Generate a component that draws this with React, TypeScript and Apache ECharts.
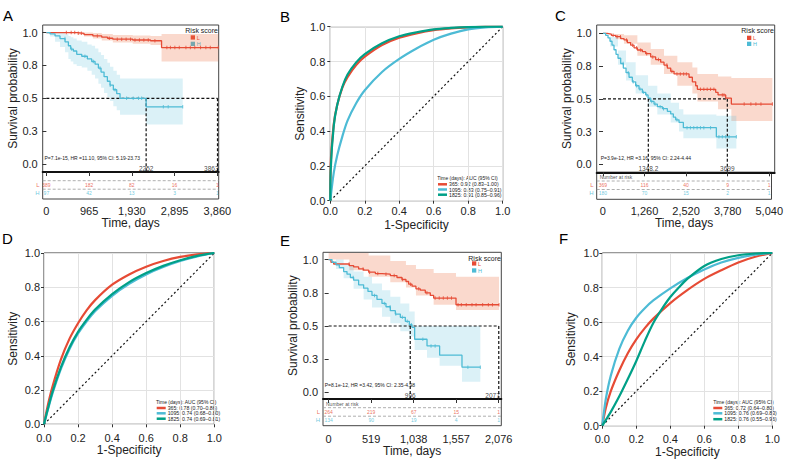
import React, { useEffect, useRef } from "react";
import * as echarts from "echarts";

type Pt = [number, number];
type Band = [number, number, number];

const RED = "#E64B35";
const BLUE = "#4DBBD5";
const GREEN = "#00A087";
const RED_FILL = "rgba(235,110,60,0.26)";
const BLUE_FILL = "rgba(77,187,213,0.2)";
const FONT = "'Liberation Sans', Arial, Helvetica, sans-serif";

// ---------- shared KM axis ----------
const KM_Y_TICKS = [0, 0.25, 0.5, 0.75, 1];
const KM_Y_LABELS = ["0.0", "0.3", "0.5", "0.8", "1.0"];
const RISK_GROUPS = ["L", "H"];

// ---------- Panel A ----------
const A_TICKS = [0, 965, 1930, 2895, 3860];
const A_L_CURVE: Pt[] = [[0, 1], [700, 0.995], [850, 0.985], [1050, 0.975], [1250, 0.965], [1380, 0.957], [1500, 0.95], [1950, 0.944], [2350, 0.938], [2600, 0.886], [3880, 0.886]];
const A_L_BAND: Band[] = [[0, 1, 1], [700, 0.985, 1], [850, 0.97, 1], [1050, 0.955, 0.998], [1250, 0.94, 0.99], [1500, 0.925, 0.982], [1950, 0.915, 0.978], [2350, 0.905, 0.975], [2600, 0.78, 0.99], [3880, 0.78, 0.99]];
const A_L_CENSOR = [450, 560, 640, 720, 790, 1150, 1420, 1600, 1700, 1800, 1900, 2000, 2100, 2200, 2300, 2450, 2720, 2800, 2900, 3000, 3150, 3250, 3350, 3480, 3600, 3700, 3880];
const A_H_CURVE: Pt[] = [[0, 1], [83, 0.99], [196, 0.975], [308, 0.955], [421, 0.93], [497, 0.9], [549, 0.875], [609, 0.86], [685, 0.835], [798, 0.82], [925, 0.8], [1023, 0.78], [1099, 0.76], [1174, 0.73], [1234, 0.7], [1302, 0.665], [1377, 0.63], [1437, 0.6], [1512, 0.565], [1588, 0.535], [1663, 0.5], [2252, 0.435], [3078, 0.435]];
const A_H_BAND: Band[] = [[0, 1, 1], [83, 0.97, 1], [196, 0.93, 1], [308, 0.89, 1], [421, 0.85, 0.99], [497, 0.8, 0.975], [549, 0.78, 0.965], [609, 0.76, 0.955], [685, 0.745, 0.94], [798, 0.735, 0.93], [925, 0.71, 0.91], [1023, 0.68, 0.9], [1099, 0.65, 0.88], [1174, 0.61, 0.85], [1234, 0.58, 0.83], [1302, 0.54, 0.8], [1377, 0.51, 0.77], [1437, 0.48, 0.74], [1512, 0.44, 0.71], [1588, 0.41, 0.68], [1663, 0.375, 0.65], [2252, 0.3, 0.65], [3078, 0.3, 0.65]];
const A_H_CENSOR = [420, 570, 870, 1060, 1210, 1440, 1550, 1810, 1960, 2080, 2150, 2640, 2750, 3078];
const A_MEDIANS = [2252, 3863];
const A_RISK_L = [389, 182, 82, 16, 1];
const A_RISK_H = [97, 42, 13, 3, 1];
const A_STAT = "P=7.1e-15, HR =11.10, 95% CI: 5.19-23.73";

// ---------- Panel C ----------
const C_TICKS = [0, 1260, 2520, 3780, 5040];
const C_L_CURVE: Pt[] = [[0, 1], [129, 0.995], [248, 0.985], [377, 0.975], [526, 0.96], [625, 0.95], [724, 0.93], [823, 0.91], [923, 0.89], [1022, 0.873], [1171, 0.86], [1270, 0.845], [1419, 0.82], [1567, 0.8], [1716, 0.78], [1815, 0.758], [1915, 0.735], [2014, 0.71], [2113, 0.69], [2560, 0.665], [2659, 0.63], [2758, 0.6], [2808, 0.573], [3353, 0.55], [3423, 0.53], [3651, 0.505], [3819, 0.46], [5040, 0.46]];
const C_L_BAND: Band[] = [[0, 1, 1], [377, 0.955, 0.995], [625, 0.92, 0.985], [1022, 0.83, 0.93], [1419, 0.76, 0.88], [1815, 0.69, 0.83], [2212, 0.6, 0.78], [2659, 0.54, 0.74], [2808, 0.48, 0.69], [3423, 0.42, 0.67], [3819, 0.33, 0.66], [5040, 0.33, 0.66]];
const C_L_CENSOR = [300, 420, 520, 700, 880, 1000, 1120, 1300, 1480, 1650, 1900, 2050, 2200, 2300, 2400, 2480, 2900, 3000, 3100, 3200, 3300, 3550, 3600, 4200, 4400, 4550, 4700, 5040];
const C_H_CURVE: Pt[] = [[0, 1], [79, 0.985], [149, 0.965], [208, 0.94], [268, 0.91], [327, 0.875], [387, 0.84], [446, 0.81], [526, 0.77], [605, 0.735], [685, 0.7], [774, 0.665], [873, 0.63], [972, 0.6], [1071, 0.575], [1171, 0.55], [1270, 0.53], [1340, 0.505], [1419, 0.48], [1518, 0.46], [1617, 0.44], [1766, 0.425], [1915, 0.405], [2014, 0.385], [2093, 0.36], [2163, 0.34], [2262, 0.32], [2391, 0.28], [3373, 0.21], [3968, 0.21]];
const C_H_BAND: Band[] = [[0, 1, 1], [208, 0.9, 0.975], [446, 0.76, 0.87], [685, 0.64, 0.78], [972, 0.54, 0.68], [1340, 0.44, 0.6], [1617, 0.38, 0.54], [2014, 0.32, 0.47], [2262, 0.25, 0.42], [2391, 0.2, 0.38], [3373, 0.12, 0.37], [3968, 0.12, 0.37]];
const C_H_CENSOR = [600, 750, 900, 1000, 1100, 1200, 1300, 1450, 1550, 1700, 1800, 2200, 2500, 2600, 2700, 2800, 2900, 3000, 3200, 3450, 3550, 3650, 3750, 3968];
const C_MEDIANS = [1348.2, 3699];
const C_RISK_L = [369, 116, 40, 9, 1];
const C_RISK_H = [180, 70, 15, 2, 1];
const C_STAT = "P=3.9e-12, HR =3.16, 95% CI: 2.24-4.44";

// ---------- Panel E ----------
const E_TICKS = [0, 519, 1038, 1557, 2076];
const E_L_CURVE: Pt[] = [[0, 1], [28, 0.98], [61, 0.967], [252, 0.955], [305, 0.945], [366, 0.93], [427, 0.92], [488, 0.905], [570, 0.895], [651, 0.89], [753, 0.88], [834, 0.865], [895, 0.85], [944, 0.835], [977, 0.815], [1018, 0.8], [1066, 0.78], [1119, 0.77], [1180, 0.75], [1241, 0.73], [1282, 0.71], [1555, 0.66], [2080, 0.66]];
const E_L_BAND: Band[] = [[0, 1, 1.05], [252, 0.92, 1.05], [488, 0.87, 1.03], [753, 0.83, 0.99], [944, 0.79, 0.96], [1066, 0.73, 0.93], [1282, 0.66, 0.9], [1555, 0.62, 0.87], [2080, 0.62, 0.87]];
const E_L_CENSOR = [250, 420, 500, 600, 700, 800, 900, 1000, 1100, 1200, 1300, 1350, 1400, 1450, 1500, 1580, 1620, 1680, 1750, 1800, 1880, 1950, 2000, 2080];
const E_H_CURVE: Pt[] = [[0, 1], [41, 0.98], [90, 0.96], [130, 0.94], [183, 0.91], [224, 0.89], [265, 0.865], [305, 0.845], [366, 0.81], [427, 0.785], [480, 0.76], [529, 0.73], [590, 0.7], [651, 0.67], [700, 0.645], [753, 0.615], [814, 0.59], [875, 0.565], [936, 0.535], [985, 0.51], [1018, 0.49], [1050, 0.4], [1201, 0.35], [1355, 0.28], [1628, 0.19], [1852, 0.19]];
const E_H_BAND: Band[] = [[0, 1, 1], [90, 0.93, 1], [183, 0.86, 0.96], [305, 0.78, 0.91], [427, 0.7, 0.87], [529, 0.64, 0.82], [651, 0.57, 0.77], [753, 0.52, 0.72], [875, 0.46, 0.67], [985, 0.42, 0.61], [1050, 0.32, 0.5], [1201, 0.26, 0.5], [1355, 0.2, 0.5], [1628, 0.08, 0.5], [1852, 0.08, 0.5]];
const E_H_CENSOR = [300, 560, 680, 750, 820, 900, 960, 1010, 1150, 1250, 1300, 1700, 1852];
const E_MEDIANS = [996, 2077];
const E_RISK_L = [264, 219, 67, 15, 1];
const E_RISK_H = [134, 90, 19, 4, 1];
const E_STAT = "P=8.1e-12, HR =3.42, 95% CI: 2.35-4.98";

// ---------- ROC panels ----------
const ROC_TITLE = "Time (days): AUC (95% CI)";
const B_365: Pt[] = [[0, 0], [0.002, 0.2], [0.02, 0.44], [0.04, 0.55], [0.07, 0.65], [0.1, 0.71], [0.15, 0.78], [0.2, 0.828], [0.3, 0.895], [0.4, 0.937], [0.5, 0.962], [0.6, 0.98], [0.7, 0.99], [0.8, 0.996], [0.9, 1], [1, 1]];
const B_1095: Pt[] = [[0, 0], [0.02, 0.16], [0.04, 0.26], [0.07, 0.37], [0.1, 0.46], [0.15, 0.56], [0.2, 0.635], [0.3, 0.74], [0.4, 0.815], [0.5, 0.875], [0.6, 0.925], [0.7, 0.96], [0.8, 0.985], [0.9, 0.996], [1, 1]];
const B_1825: Pt[] = [[0, 0], [0.002, 0.17], [0.02, 0.43], [0.04, 0.55], [0.07, 0.655], [0.1, 0.725], [0.15, 0.795], [0.2, 0.843], [0.3, 0.905], [0.4, 0.945], [0.5, 0.968], [0.6, 0.985], [0.7, 0.993], [0.8, 0.998], [0.9, 1], [1, 1]];
const B_LEGEND = ["365: 0.92 (0.83–1.00)", "1095: 0.83 (0.75–0.91)", "1825: 0.91 (0.85–0.96)"];

const D_365: Pt[] = [[0, 0], [0.02, 0.1], [0.05, 0.22], [0.1, 0.38], [0.15, 0.5], [0.2, 0.59], [0.25, 0.665], [0.3, 0.725], [0.4, 0.815], [0.5, 0.875], [0.6, 0.92], [0.7, 0.953], [0.8, 0.977], [0.9, 0.992], [1, 1]];
const D_1095: Pt[] = [[0, 0], [0.02, 0.075], [0.05, 0.18], [0.1, 0.325], [0.15, 0.44], [0.2, 0.53], [0.25, 0.6], [0.3, 0.66], [0.4, 0.75], [0.5, 0.82], [0.6, 0.875], [0.7, 0.918], [0.8, 0.953], [0.9, 0.98], [1, 1]];
const D_1825: Pt[] = [[0, 0], [0.02, 0.08], [0.05, 0.19], [0.1, 0.335], [0.15, 0.45], [0.2, 0.54], [0.25, 0.61], [0.3, 0.67], [0.4, 0.76], [0.5, 0.83], [0.6, 0.883], [0.7, 0.925], [0.8, 0.958], [0.9, 0.983], [1, 1]];
const D_LEGEND = ["365: 0.78 (0.70–0.86)", "1095: 0.74 (0.68–0.80)", "1825: 0.74 (0.69–0.81)"];

const F_365: Pt[] = [[0, 0], [0.02, 0.1], [0.05, 0.2], [0.1, 0.32], [0.15, 0.42], [0.2, 0.5], [0.25, 0.565], [0.3, 0.62], [0.4, 0.71], [0.5, 0.785], [0.6, 0.85], [0.7, 0.9], [0.8, 0.945], [0.9, 0.978], [1, 1]];
const F_1095: Pt[] = [[0, 0], [0.02, 0.15], [0.05, 0.29], [0.1, 0.445], [0.15, 0.55], [0.2, 0.625], [0.25, 0.68], [0.3, 0.725], [0.4, 0.795], [0.5, 0.855], [0.6, 0.905], [0.7, 0.945], [0.8, 0.972], [0.9, 0.99], [1, 1]];
const F_1825: Pt[] = [[0, 0], [0.05, 0.08], [0.1, 0.17], [0.15, 0.27], [0.2, 0.375], [0.25, 0.49], [0.3, 0.595], [0.35, 0.675], [0.4, 0.745], [0.45, 0.8], [0.5, 0.85], [0.6, 0.925], [0.7, 0.965], [0.8, 0.987], [0.9, 0.997], [1, 1]];
const F_LEGEND = ["365: 0.72 (0.64–0.80)", "1095: 0.76 (0.69–0.83)", "1825: 0.76 (0.55–0.96)"];

// ---------- helpers ----------
const txt = (size: number, color = "#222") => ({ fontFamily: FONT, fontSize: size, color });

function stepAt(curve: Pt[], t: number) {
  let v = curve[0][1];
  for (const p of curve) {
    if (p[0] <= t) v = p[1];
    else break;
  }
  return v;
}

function kmYFmt(v: number) {
  let best = 0;
  KM_Y_TICKS.forEach((t, i) => {
    if (Math.abs(t - v) < Math.abs(KM_Y_TICKS[best] - v)) best = i;
  });
  return KM_Y_LABELS[best];
}

function gText(x: number, y: number, text: string, size: number, fill = "#222", align = "left") {
  return {
    type: "text",
    x,
    y,
    silent: true,
    style: {
      text,
      fill,
      fontSize: size,
      fontFamily: FONT,
      align,
      verticalAlign: "middle",
      textAlign: align,
      textVerticalAlign: "middle",
    },
  };
}

function buildOption() {
  const grid: any[] = [];
  const xAxis: any[] = [];
  const yAxis: any[] = [];
  const series: any[] = [];
  const graphic: any[] = [];

  const bandSeries = (band: Band[], fill: string, ai: number) => ({
    type: "custom",
    xAxisIndex: ai,
    yAxisIndex: ai,
    silent: true,
    clip: true,
    z: 1,
    data: [[band[0][0], band[0][1]]],
    renderItem: (_p: any, api: any) => {
      const up: number[][] = [];
      const lo: number[][] = [];
      band.forEach((b, i) => {
        const tn = i < band.length - 1 ? band[i + 1][0] : b[0];
        up.push(api.coord([b[0], b[2]]), api.coord([tn, b[2]]));
        lo.push(api.coord([b[0], b[1]]), api.coord([tn, b[1]]));
      });
      return { type: "polygon", shape: { points: up.concat(lo.reverse()) }, style: { fill } };
    },
  });

  const addKM = (c: any) => {
    const gi = grid.length;
    const ri = gi + 1;
    const [L, T, W, H] = c.box;
    grid.push({ left: L, top: T, width: W, height: H, show: true, borderColor: "#444", borderWidth: 1, backgroundColor: "transparent" });
    grid.push({ left: L, top: T + H, width: W, height: c.tableH, show: true, borderColor: "#444", borderWidth: 1, backgroundColor: "transparent" });
    xAxis.push({
      gridIndex: gi, type: "value", min: c.xr[0], max: c.xr[1],
      axisLine: { show: true, onZero: false, lineStyle: { color: "#111", width: 2 } },
      axisTick: { show: false }, axisLabel: { show: false }, splitLine: { show: false },
    });
    xAxis.push({
      gridIndex: ri, type: "value", min: c.xr[0], max: c.xr[1],
      axisLine: { show: false },
      axisTick: { show: true, customValues: c.ticks, length: 4, lineStyle: { color: "#333" } },
      axisLabel: { show: true, customValues: c.ticks, formatter: (v: number) => v.toLocaleString("en-US"), margin: c.xLabMargin, ...txt(11) },
      splitLine: { show: false },
      name: "Time, days", nameLocation: "middle", nameGap: c.xNameGap, nameTextStyle: txt(12),
    });
    yAxis.push({
      gridIndex: gi, type: "value", min: c.yr[0], max: c.yr[1],
      axisLine: { show: false },
      axisTick: { show: true, customValues: KM_Y_TICKS, length: 4, lineStyle: { color: "#333" } },
      axisLabel: { show: true, customValues: KM_Y_TICKS, formatter: kmYFmt, margin: 5, ...txt(11) },
      splitLine: { show: false },
      name: "Survival probability", nameLocation: "middle", nameGap: c.yNameGap, nameTextStyle: txt(12),
    });
    yAxis.push({ gridIndex: ri, type: "value", min: 0, max: c.tableH, inverse: true, show: false });

    // CI bands
    series.push(bandSeries(c.lBand, RED_FILL, gi));
    series.push(bandSeries(c.hBand, BLUE_FILL, gi));

    // median lines
    const dash = { color: "#111", width: 1.2, type: [3, 2] };
    const mLast = c.medians[c.medians.length - 1];
    const segs: Pt[][] = [[[0, 0.5], [mLast, 0.5]], ...c.medians.map((m: number) => [[m, 0.5], [m, c.yr[0]]] as Pt[])];
    segs.forEach((s) =>
      series.push({ type: "line", xAxisIndex: gi, yAxisIndex: gi, data: s, symbol: "none", silent: true, z: 2, lineStyle: dash })
    );

    // curves
    const groups = [
      { curve: c.lCurve, cens: c.lCens, color: RED },
      { curve: c.hCurve, cens: c.hCens, color: BLUE },
    ];
    groups.forEach((g) => {
      series.push({
        type: "line", xAxisIndex: gi, yAxisIndex: gi, data: g.curve, step: "end", symbol: "none",
        silent: true, z: 3, lineStyle: { color: g.color, width: 1.3 },
      });
      series.push({
        type: "scatter", xAxisIndex: gi, yAxisIndex: gi, silent: true, z: 4,
        data: g.cens.map((t: number) => [t, stepAt(g.curve, t)]),
        symbol: "rect", symbolSize: [1, 3.5], itemStyle: { color: g.color },
      });
    });

    // median labels
    series.push({
      type: "scatter", xAxisIndex: gi, yAxisIndex: gi, silent: true, z: 5, symbolSize: 0,
      data: c.medians.map((m: number, i: number) => ({
        value: [m, c.medLabelY],
        label: {
          show: true,
          position: c.medAlign[i] === "r" ? "left" : "inside",
          distance: -1,
          formatter: String(m),
          ...txt(6.5, "#111"),
        },
      })),
    });

    // risk table
    [c.dashY[0], c.dashY[1]].forEach((y: number) =>
      series.push({
        type: "line", xAxisIndex: ri, yAxisIndex: ri, silent: true, symbol: "none",
        data: [[c.xr[0], y], [c.xr[1], y]],
        lineStyle: { color: "#999", width: 0.8, type: [3, 2] },
      })
    );
    const rows = [
      { vals: c.riskLow, y: c.rowY[0], color: RED, name: RISK_GROUPS[0] },
      { vals: c.riskHigh, y: c.rowY[1], color: BLUE, name: RISK_GROUPS[1] },
    ];
    rows.forEach((r) => {
      series.push({
        type: "scatter", xAxisIndex: ri, yAxisIndex: ri, silent: true, symbolSize: 0,
        data: c.ticks.map((t: number, i: number) => ({
          value: [t, r.y],
          label: { show: true, position: "inside", formatter: String(r.vals[i]), ...txt(5, r.color) },
        })),
      });
      series.push({
        type: "scatter", xAxisIndex: ri, yAxisIndex: ri, silent: true, symbolSize: 0,
        data: [{ value: [c.xr[0], r.y], label: { show: true, position: "left", distance: 3, formatter: r.name, ...txt(6, r.color) } }],
      });
    });
    if (c.header) {
      series.push({
        type: "scatter", xAxisIndex: ri, yAxisIndex: ri, silent: true, symbolSize: 0,
        data: [{ value: [c.xr[0], c.headerY], label: { show: true, position: "right", distance: 3, formatter: "Number at risk", ...txt(5, "#222") } }],
      });
    }

    // stats annotation and legend
    graphic.push(gText(c.stat[0], c.stat[1], c.statText, 5, "#222"));
    const lg = c.legend;
    graphic.push(gText(lg.xr, lg.ty, "Risk score", 7, "#222", "right"));
    graphic.push({ type: "rect", silent: true, shape: { x: lg.sx, y: lg.sy[0], width: 4.3, height: 4.3 }, style: { fill: RED } });
    graphic.push({ type: "rect", silent: true, shape: { x: lg.sx, y: lg.sy[1], width: 4.3, height: 4.3 }, style: { fill: BLUE } });
    graphic.push(gText(lg.sx + 6, lg.sy[0] + 2.2, RISK_GROUPS[0], 5.5, RED));
    graphic.push(gText(lg.sx + 6, lg.sy[1] + 2.2, RISK_GROUPS[1], 5.5, BLUE));
  };

  const addROC = (c: any) => {
    const gi = grid.length;
    const [L, T, W, H] = c.box;
    grid.push({ left: L, top: T, width: W, height: H, show: true, borderColor: "#333", borderWidth: 1, backgroundColor: "transparent" });
    const common = {
      gridIndex: gi, type: "value", min: 0, max: 1, interval: 0.2,
      axisLine: { show: false },
      axisTick: { show: true, length: 3, lineStyle: { color: "#333" } },
      splitLine: { show: true, lineStyle: { color: "#e2e2e2", width: 1 } },
    };
    xAxis.push({
      ...common,
      axisLabel: { formatter: (v: number) => v.toFixed(1), margin: c.xm, ...txt(11) },
      name: "1-Specificity", nameLocation: "middle", nameGap: c.xg, nameTextStyle: txt(12),
    });
    yAxis.push({
      ...common,
      axisLabel: { formatter: (v: number) => v.toFixed(1), margin: c.ym, ...txt(11) },
      name: "Sensitivity", nameLocation: "middle", nameGap: c.yg, nameTextStyle: txt(12),
    });
    series.push({
      type: "line", xAxisIndex: gi, yAxisIndex: gi, data: [[0, 0], [1, 1]], symbol: "none", silent: true, z: 2,
      lineStyle: { color: "#111", width: 1.2, type: [2, 2.5] },
    });
    c.curves.forEach((cv: any) =>
      series.push({
        type: "line", xAxisIndex: gi, yAxisIndex: gi, data: cv.data, symbol: "none", silent: true, z: 3,
        smooth: 0.3, lineStyle: { color: cv.color, width: 2.2 },
      })
    );
    const lg = c.legend;
    graphic.push(gText(lg.x, lg.ty, ROC_TITLE, 5, "#222"));
    const colors = [RED, BLUE, GREEN];
    c.labels.forEach((lab: string, i: number) => {
      graphic.push({
        type: "line", silent: true,
        shape: { x1: lg.lx[0], y1: lg.ys[i], x2: lg.lx[1], y2: lg.ys[i] },
        style: { stroke: colors[i], lineWidth: 2.5 },
      });
      graphic.push(gText(lg.lx[1] + 2, lg.ys[i], lab, 5.2, "#222"));
    });
  };

  const riskRows = { headerY: 4.5, dashY: [8.7, 17.2], rowY: [13, 21] };

  addKM({
    box: [42.7, 25, 176, 147], tableH: 27, xr: [-83, 3890], yr: [-0.061, 1.058], ticks: A_TICKS,
    lCurve: A_L_CURVE, lBand: A_L_BAND, lCens: A_L_CENSOR, hCurve: A_H_CURVE, hBand: A_H_BAND, hCens: A_H_CENSOR,
    medians: A_MEDIANS, medAlign: ["c", "r"], medLabelY: -0.034, riskLow: A_RISK_L, riskHigh: A_RISK_H,
    header: false, xLabMargin: 6, xNameGap: 18, yNameGap: 22,
    stat: [44.5, 158.3], statText: A_STAT,
    legend: { xr: 218, ty: 30, sx: 190.7, sy: [35.3, 41.7] },
    ...riskRows,
  });
  addROC({
    box: [330.3, 26.7, 172.4, 174], xm: 4.5, xg: 18, ym: 5, yg: 24,
    curves: [{ data: B_365, color: RED }, { data: B_1095, color: BLUE }, { data: B_1825, color: GREEN }],
    labels: B_LEGEND,
    legend: { x: 437.3, ty: 177.5, lx: [438, 447], ys: [184.3, 189.5, 194.7] },
  });
  addKM({
    box: [596.7, 25, 178, 147.3], tableH: 27, xr: [-188, 5109], yr: [-0.061, 1.064], ticks: C_TICKS,
    lCurve: C_L_CURVE, lBand: C_L_BAND, lCens: C_L_CENSOR, hCurve: C_H_CURVE, hBand: C_H_BAND, hCens: C_H_CENSOR,
    medians: C_MEDIANS, medAlign: ["c", "c"], medLabelY: -0.034, riskLow: C_RISK_L, riskHigh: C_RISK_H,
    header: true, xLabMargin: 6, xNameGap: 16, yNameGap: 20,
    stat: [600.7, 158.3], statText: C_STAT,
    legend: { xr: 774, ty: 30, sx: 747, sy: [35.7, 41.7] },
    ...riskRows,
  });
  addROC({
    box: [44, 253, 170.3, 171.3], xm: 8, xg: 20, ym: 4, yg: 25,
    curves: [{ data: D_365, color: RED }, { data: D_1095, color: BLUE }, { data: D_1825, color: GREEN }],
    labels: D_LEGEND,
    legend: { x: 156, ty: 401.5, lx: [156.7, 165.7], ys: [408, 413.3, 418.7] },
  });
  addKM({
    box: [323, 252.3, 178.3, 146.7], tableH: 26.7, xr: [-69, 2108], yr: [-0.05, 1.055], ticks: E_TICKS,
    lCurve: E_L_CURVE, lBand: E_L_BAND, lCens: E_L_CENSOR, hCurve: E_H_CURVE, hBand: E_H_BAND, hCens: E_H_CENSOR,
    medians: E_MEDIANS, medAlign: ["c", "r"], medLabelY: -0.02, riskLow: E_RISK_L, riskHigh: E_RISK_H,
    header: true, xLabMargin: 7.5, xNameGap: 18, yNameGap: 24,
    stat: [324.7, 385], statText: E_STAT,
    legend: { xr: 501, ty: 258, sx: 472, sy: [261.3, 268.3] },
    ...riskRows,
  });
  addROC({
    box: [602.3, 253, 170, 172.7], xm: 8, xg: 18, ym: 3.5, yg: 25,
    curves: [{ data: F_365, color: RED }, { data: F_1095, color: BLUE }, { data: F_1825, color: GREEN }],
    labels: F_LEGEND,
    legend: { x: 713.3, ty: 401.7, lx: [713.3, 722.3], ys: [408, 413.3, 419.2] },
  });

  // panel letters
  graphic.push(gText(3, 15, "A", 15, "#000"));
  graphic.push(gText(280, 16, "B", 15, "#000"));
  graphic.push(gText(555, 15, "C", 15, "#000"));
  graphic.push(gText(2, 238, "D", 15, "#000"));
  graphic.push(gText(280, 240, "E", 15, "#000"));
  graphic.push(gText(559, 238, "F", 15, "#000"));

  return { animation: false, backgroundColor: "#fff", grid, xAxis, yAxis, series, graphic };
}

export default function App() {
  const ref = useRef<HTMLDivElement>(null);
  useEffect(() => {
    if (!ref.current) return;
    const chart = echarts.init(ref.current, undefined, { renderer: "svg" });
    chart.setOption(buildOption() as any);
    return () => chart.dispose();
  }, []);
  return <div ref={ref} style={{ position: "absolute", left: 0, top: 0, width: 786, height: 459, background: "#fff" }} />;
}
